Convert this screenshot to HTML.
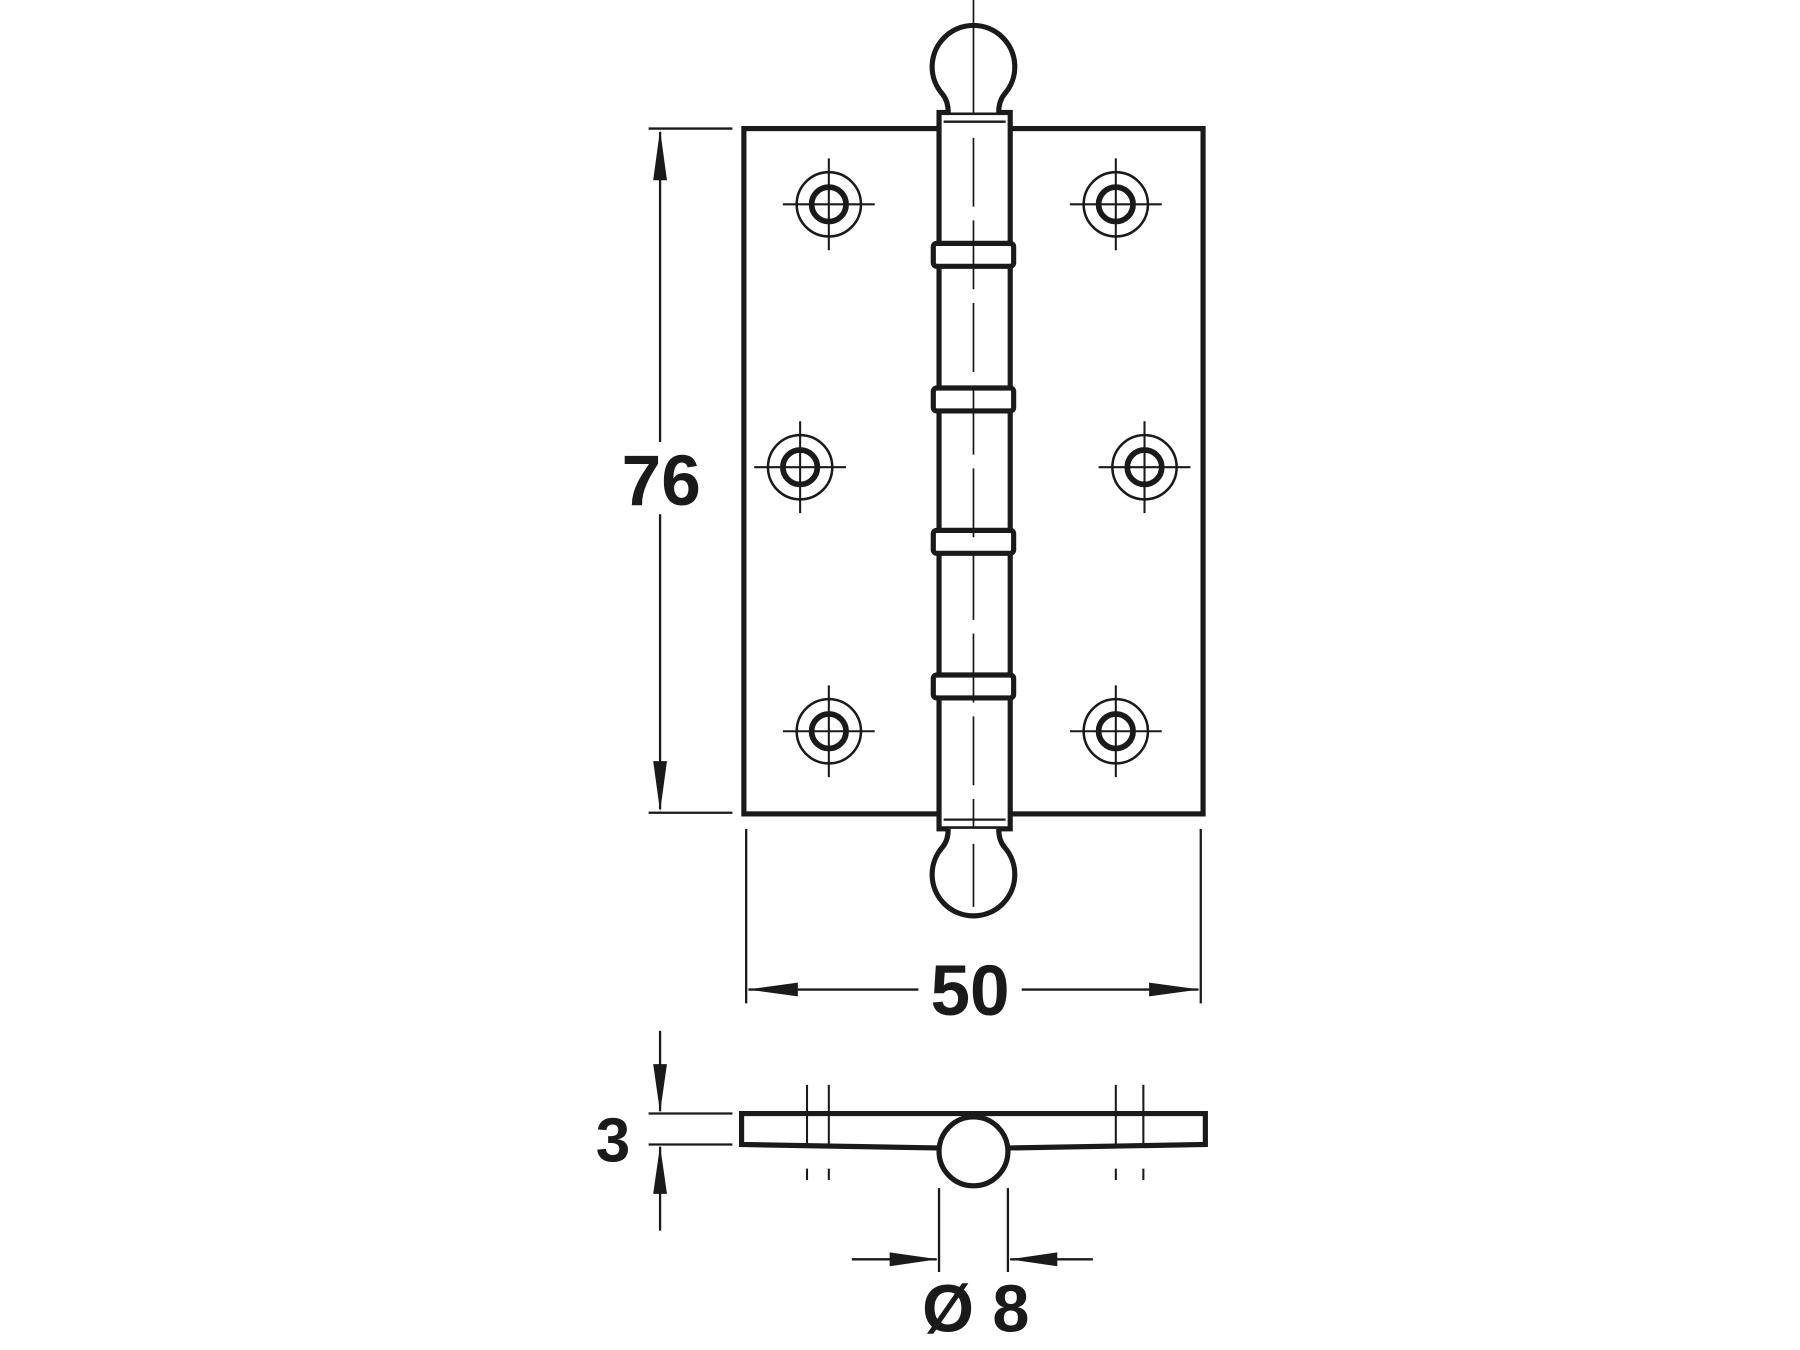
<!DOCTYPE html>
<html><head><style>html,body{margin:0;padding:0;background:#fff}svg{display:block}</style></head>
<body>
<svg width="1800" height="1350" viewBox="0 0 1568 1176" xmlns="http://www.w3.org/2000/svg">
<g fill="none" stroke="#1a1a1a" stroke-linecap="butt">
<!-- plate -->
<rect x="648" y="112" width="400" height="597" stroke-width="4.5"/>
<!-- pin body -->
<rect x="818" y="98" width="62" height="624" fill="#fff" stroke-width="4.5"/>
<line x1="822" y1="106" x2="876" y2="106" stroke-width="2"/>
<line x1="822" y1="714" x2="876" y2="714" stroke-width="2"/>
<!-- balls -->
<path d="M826,98 Q826,88 821,82 A36,36 0 1 1 875,82 Q870,88 870,98" fill="#fff" stroke-width="4.5"/>
<path d="M826,722 Q826,732 821,738 A36,36 0 1 0 875,738 Q870,732 870,722" fill="#fff" stroke-width="4.5"/>
<!-- bands -->
<g stroke-width="4.5" fill="#fff">
<rect x="813" y="212" width="70" height="20" rx="3"/>
<rect x="813" y="338" width="70" height="20" rx="3"/>
<rect x="813" y="462" width="70" height="20" rx="3"/>
<rect x="813" y="588" width="70" height="20" rx="3"/>
</g>
<!-- center line -->
<line x1="848" y1="0" x2="848" y2="100" stroke-width="1.5"/>
<line x1="848" y1="120" x2="848" y2="720" stroke-width="1.5" stroke-dasharray="60,12"/>
<line x1="848" y1="735" x2="848" y2="790" stroke-width="1.5"/>
</g>
<g fill="none" stroke="#1a1a1a">
<g transform="translate(722,178)"><circle r="28" stroke-width="2.2"/><circle r="15" stroke-width="5"/><line x1="-40" x2="40" stroke-width="1.8"/><line y1="-40" y2="40" stroke-width="1.8"/></g>
<g transform="translate(972,178)"><circle r="28" stroke-width="2.2"/><circle r="15" stroke-width="5"/><line x1="-40" x2="40" stroke-width="1.8"/><line y1="-40" y2="40" stroke-width="1.8"/></g>
<g transform="translate(697,407)"><circle r="28" stroke-width="2.2"/><circle r="15" stroke-width="5"/><line x1="-40" x2="40" stroke-width="1.8"/><line y1="-40" y2="40" stroke-width="1.8"/></g>
<g transform="translate(997,407)"><circle r="28" stroke-width="2.2"/><circle r="15" stroke-width="5"/><line x1="-40" x2="40" stroke-width="1.8"/><line y1="-40" y2="40" stroke-width="1.8"/></g>
<g transform="translate(722,637)"><circle r="28" stroke-width="2.2"/><circle r="15" stroke-width="5"/><line x1="-40" x2="40" stroke-width="1.8"/><line y1="-40" y2="40" stroke-width="1.8"/></g>
<g transform="translate(972,637)"><circle r="28" stroke-width="2.2"/><circle r="15" stroke-width="5"/><line x1="-40" x2="40" stroke-width="1.8"/><line y1="-40" y2="40" stroke-width="1.8"/></g>
</g>
<g stroke="#1a1a1a" stroke-width="2" fill="#1a1a1a">
<line x1="565" y1="112" x2="638" y2="112"/>
<line x1="565" y1="708" x2="638" y2="708"/>
<line x1="575" y1="115" x2="575" y2="385"/>
<line x1="575" y1="448" x2="575" y2="705"/>
<polygon points="575,113 569,157 581,157" stroke="none"/>
<polygon points="575,707 569,663 581,663" stroke="none"/>
<line x1="650" y1="722" x2="650" y2="874"/>
<line x1="1046" y1="722" x2="1046" y2="874"/>
<line x1="652" y1="862" x2="800" y2="862"/>
<line x1="890" y1="862" x2="1044" y2="862"/>
<polygon points="651,862 695,856 695,868" stroke="none"/>
<polygon points="1045,862 1001,856 1001,868" stroke="none"/>
<line x1="565" y1="970" x2="638" y2="970"/>
<line x1="565" y1="997" x2="638" y2="997"/>
<line x1="575" y1="898" x2="575" y2="968"/>
<line x1="575" y1="999" x2="575" y2="1072"/>
<polygon points="575,969 569,927 581,927" stroke="none"/>
<polygon points="575,998 569,1040 581,1040" stroke="none"/>
<line x1="818" y1="1035" x2="818" y2="1108"/>
<line x1="878" y1="1035" x2="878" y2="1108"/>
<line x1="742" y1="1097" x2="816" y2="1097"/>
<line x1="880" y1="1097" x2="952" y2="1097"/>
<polygon points="817,1097 775,1091 775,1103" stroke="none"/>
<polygon points="879,1097 921,1091 921,1103" stroke="none"/>
</g>
<g fill="none" stroke="#1a1a1a">
<path d="M646,970 L1050,970 L1050,997 L880,1000 L816,1000 L646,997 Z" stroke-width="4.5" fill="#fff"/>
<circle cx="848" cy="1003" r="30" fill="#fff" stroke-width="4.5"/>
<g stroke-width="1.8">
<line x1="703" y1="945" x2="703" y2="999"/><line x1="722" y1="945" x2="722" y2="999"/>
<line x1="972" y1="945" x2="972" y2="999"/><line x1="996" y1="945" x2="996" y2="999"/>
<line x1="703" y1="1018" x2="703" y2="1028"/><line x1="722" y1="1018" x2="722" y2="1028"/>
<line x1="972" y1="1018" x2="972" y2="1028"/><line x1="996" y1="1018" x2="996" y2="1028"/>
</g>
</g>
<g font-family="Liberation Sans, sans-serif" font-weight="bold" fill="#1a1a1a" text-anchor="middle">
<text x="576" y="440" font-size="62">76</text>
<text x="845" y="884" font-size="62">50</text>
<text x="534" y="1012" font-size="54">3</text>
<text x="850" y="1160" font-size="58">Ø 8</text>
</g>
</svg>
</body></html>
